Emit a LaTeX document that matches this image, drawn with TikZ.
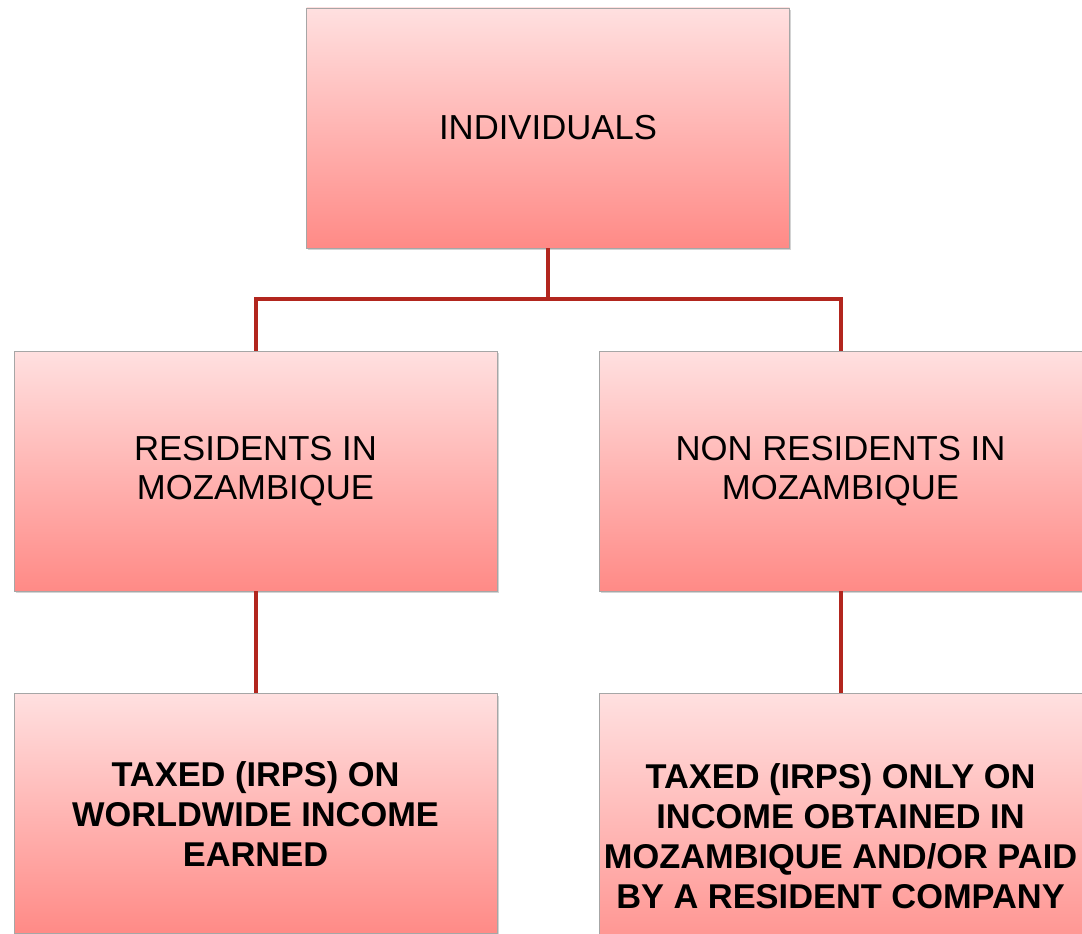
\documentclass[tikz,border=0pt]{standalone}
\usepackage{fontspec}
\setmainfont{Liberation Sans}
\usetikzlibrary{positioning, shadows}
\definecolor{boxtop}{RGB}{255,224,224}
\definecolor{boxbot}{RGB}{255,138,134}
\definecolor{linkred}{RGB}{178,38,30}

\begin{document}
\begin{tikzpicture}[
  x=1pt, y=1pt, % 1 px of the slide = 1pt
  catbox/.style={draw=gray!70, line width=0.8pt, top color=boxtop, bottom color=boxbot,
                 minimum width=483pt, minimum height=240pt, align=center, inner sep=0pt,
                 drop shadow={shadow xshift=1.5pt, shadow yshift=-2pt, opacity=0.35, fill=gray}},
  plaintxt/.style={font=\fontsize{34.7}{39}\selectfont},
  boldtxt/.style={font=\fontsize{34.4}{40}\selectfont\bfseries},
  link/.style={draw=linkred, line width=4pt}
]
  \useasboundingbox (0,0) rectangle (1082,-934);
  \clip (0,0) rectangle (1082,-934);

  % top level
  \node[catbox, plaintxt] (indiv) at (548,-128) {INDIVIDUALS};

  % residence split
  \node[catbox, plaintxt] (res)    at (255.5,-471) {RESIDENTS IN\\MOZAMBIQUE};
  \node[catbox, plaintxt] (nonres) at (840.5,-471) {NON RESIDENTS IN\\MOZAMBIQUE};

  % tax treatment (boxes run past the lower edge)
  \node[catbox, boldtxt, below=102pt of res] (taxres)
    {TAXED (IRPS) ON\\WORLDWIDE INCOME\\EARNED};
  \node[catbox, boldtxt, minimum height=284pt, below=102pt of nonres] (taxnon)
    {TAXED (IRPS) ONLY ON\\INCOME OBTAINED IN\\MOZAMBIQUE AND/OR PAID\\BY A RESIDENT COMPANY};

  % connectors
  \draw[link] (indiv.south) -- ++(0,-51) -| (res.north);
  \draw[link] (indiv.south) -- ++(0,-51) -| (nonres.north);
  \draw[link] (res.south) -- (taxres.north);
  \draw[link] (nonres.south) -- (taxnon.north);
\end{tikzpicture}
\end{document}
